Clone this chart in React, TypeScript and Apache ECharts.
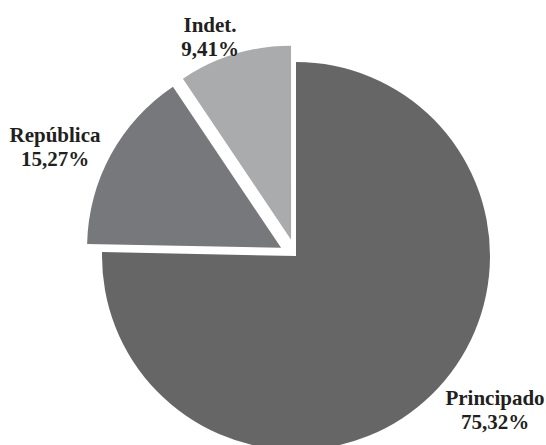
import React, { useEffect, useRef } from "react";
import * as echarts from "echarts";

const categories = ["Principado", "República", "Indet."];
const values = [75.32, 15.27, 9.41];
const colors = ["#666666", "#77787b", "#aaabad"];
const selected = [false, true, true];
const labelPos: [number, number][] = [
  [495, 410],
  [55, 147],
  [210, 37],
];

const fmt = (v: number) => v.toFixed(2).replace(".", ",") + "%";

export default function App() {
  const ref = useRef<HTMLDivElement>(null);
  useEffect(() => {
    if (!ref.current) return;
    const chart = echarts.init(ref.current, null, { renderer: "svg" });
    chart.setOption({
      animation: false,
      backgroundColor: "#ffffff",
      graphic: categories.map((c, i) => ({
        type: "text",
        x: labelPos[i][0],
        y: labelPos[i][1],
        z: 100,
        style: {
          text: c + "\n" + fmt(values[i]),
          fontFamily: "Liberation Serif",
          fontWeight: "bold",
          fontSize: 21,
          lineHeight: 24,
          fill: "#231f20",
          align: "center",
          verticalAlign: "middle",
        },
      })),
      series: [
        {
          type: "pie",
          center: [296, 256],
          radius: 194,
          startAngle: 90,
          clockwise: true,
          selectedMode: "multiple",
          selectedOffset: 17,
          emphasis: { disabled: true },
          data: categories.map((c, i) => ({
            name: c,
            value: values[i],
            selected: selected[i],
            itemStyle: { color: colors[i] },
          })),
          label: { show: false },
          labelLine: { show: false },
        },
      ],
    });
    return () => chart.dispose();
  }, []);
  return (
    <div
      ref={ref}
      style={{ position: "fixed", left: 0, top: 0, width: 546, height: 445 }}
    />
  );
}
